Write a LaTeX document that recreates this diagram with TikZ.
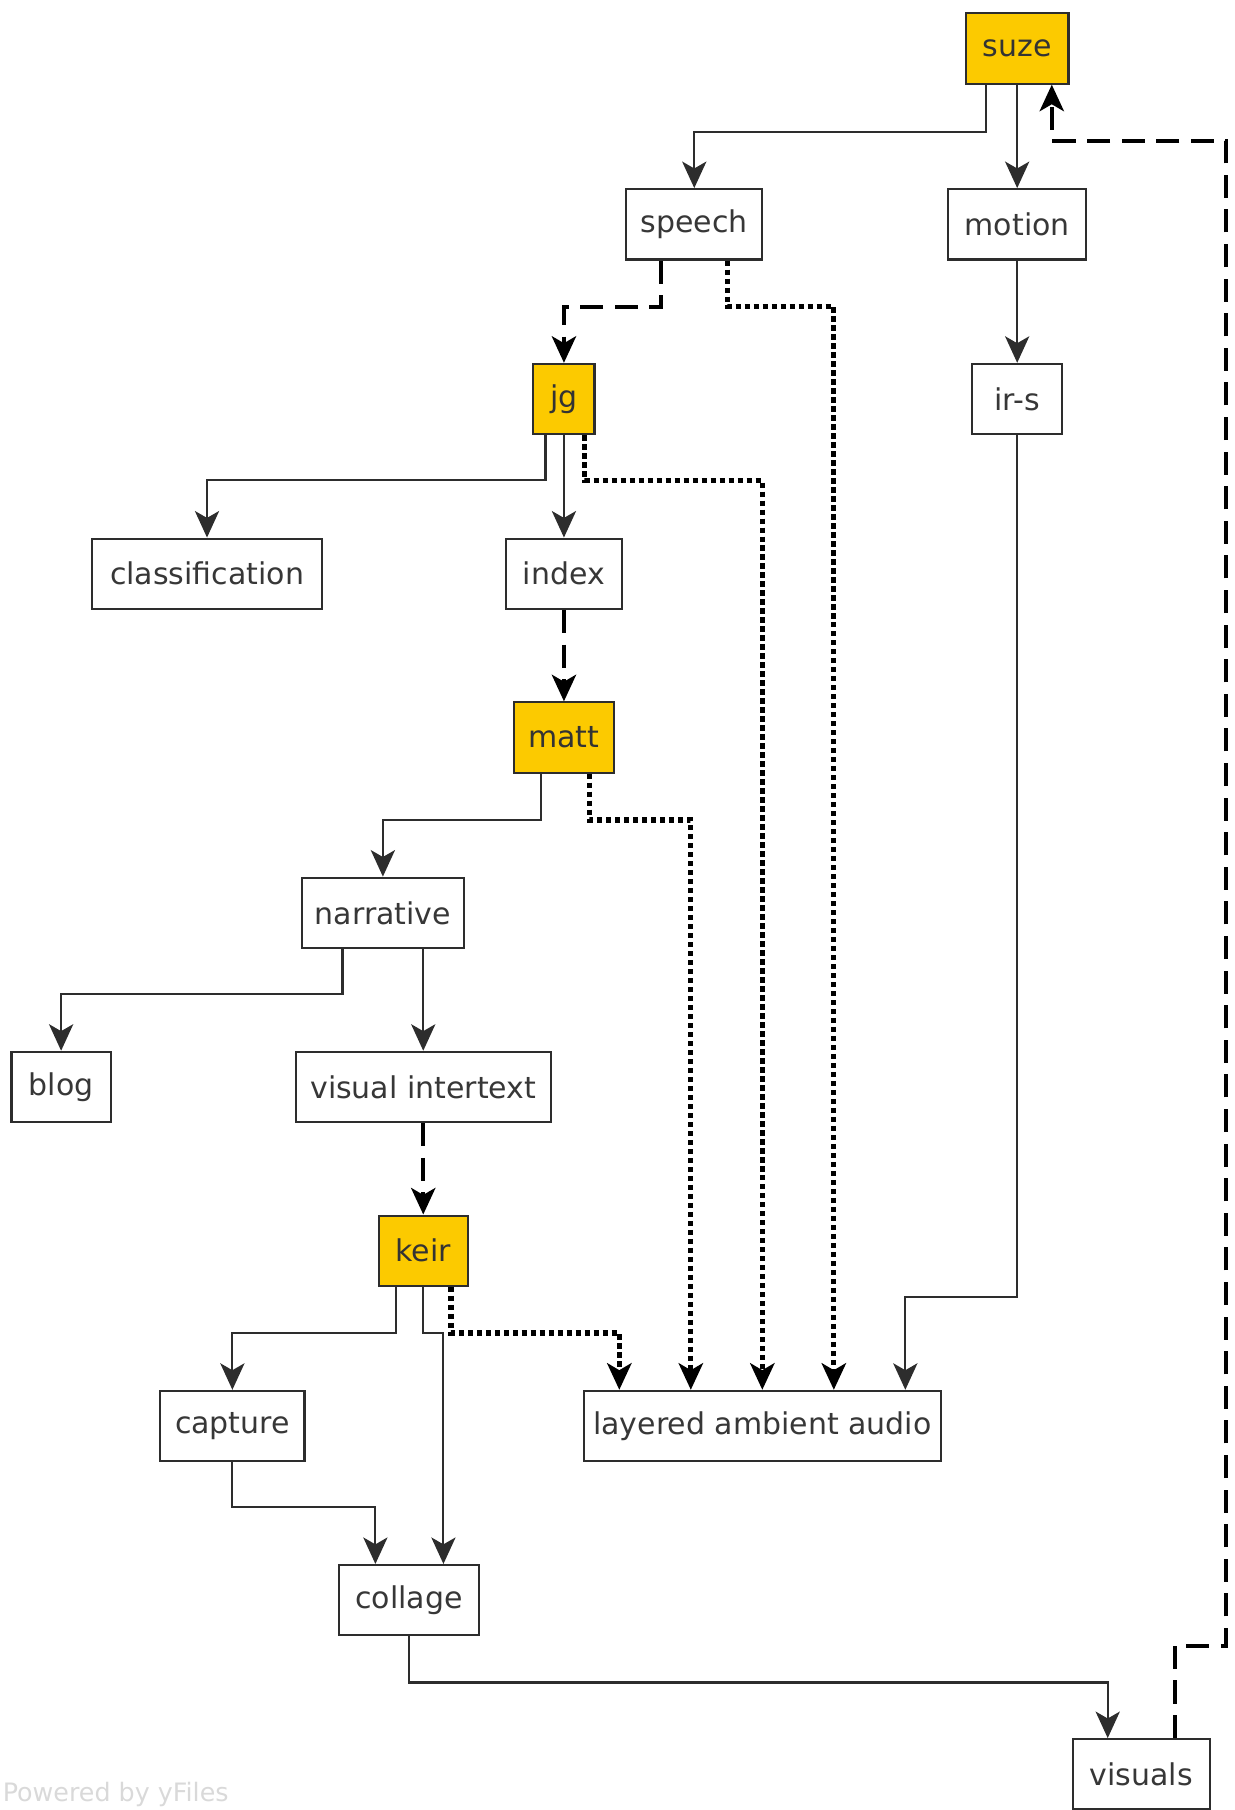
\documentclass[tikz,border=0pt]{standalone}
\usepackage{fontspec}
\setmainfont{DejaVu Sans}
\usetikzlibrary{arrows.meta}
\definecolor{yfyellow}{RGB}{252,202,0}
\definecolor{yfline}{RGB}{45,45,45}
\definecolor{yftext}{RGB}{55,55,55}

\begin{document}
\begin{tikzpicture}[x=0.5pt,y=-0.5pt,
  box/.style={draw=yfline,line width=0.9pt,fill=white,minimum height=30.5pt,inner sep=0pt,text=yftext,font=\fontsize{13}{15}\selectfont},
  agent/.style={box,fill=yfyellow,text=black!80},
  tip/.style={-{Stealth[length=11.5pt,width=10.5pt,inset=3pt]}},
  flow/.style={tip,draw=yfline,line width=0.9pt},
  handoff/.style={tip,line width=1.8pt,dash pattern=on 10pt off 5pt},
  feed/.style={tip,line width=2.3pt,dash pattern=on 2.3pt off 1.6pt}]
\useasboundingbox (0,0) rectangle (1070,1569.45);
\node[agent,minimum width=44.5pt] (suze) at (882,42) {suze};
\node[box,minimum width=59pt] (speech) at (602,194.5) {speech};
\node[box,minimum width=60pt] (motion) at (882,194.5) {motion};
\node[agent,minimum width=26.5pt] (jg) at (489,346) {jg};
\node[box,minimum width=39pt] (irs) at (882,346) {ir-s};
\node[box,minimum width=99.5pt] (classification) at (179.5,497.5) {classification};
\node[box,minimum width=50pt] (index) at (489,497.5) {index};
\node[agent,minimum width=43.5pt] (matt) at (489,639.5) {matt};
\node[box,minimum width=70.5pt] (narrative) at (332,791.5) {narrative};
\node[box,minimum width=43pt] (blog) at (53,942.5) {blog};
\node[box,minimum width=110.5pt] (vint) at (367,942.5) {visual intertext};
\node[agent,minimum width=38.5pt] (keir) at (367,1084.5) {keir};
\node[box,minimum width=62.5pt] (capture) at (201.5,1236.5) {capture};
\node[box,minimum width=155pt] (audio) at (661,1236.5) {layered ambient audio};
\node[box,minimum width=60.5pt] (collage) at (354.5,1387.5) {collage};
\node[box,minimum width=59.5pt] (visuals) at (989.5,1538.5) {visuals};
\node[anchor=base west,inner sep=0pt,text=black!15,font=\fontsize{11}{13}\selectfont] (credit) at (2,1562) {Powered by yFiles};
\coordinate (loopback) at (1063,122);
\draw[flow] ([xshift=-13.5pt]suze.south) -- ++(0,41) -| (speech);
\draw[flow] (suze) -- (motion);
\draw[handoff] ([xshift=14.5pt]visuals.north) -- ++(0,-80) -| (loopback) -| ([xshift=15pt]suze.south);
\draw[handoff] ([xshift=-14.5pt]speech.south) -- ++(0,40) -| (jg);
\draw[feed] ([xshift=14.5pt]speech.south) -- ++(0,40) -| ([xshift=31pt]audio.north);
\draw[flow] (motion) -- (irs);
\draw[flow] (irs.south) -- ++(0,747) -| ([xshift=62pt]audio.north);
\draw[flow] ([xshift=-8pt]jg.south) -- ++(0,39) -| (classification);
\draw[flow] (jg) -- (index);
\draw[feed] ([xshift=9pt]jg.south) -- ++(0,39) -| (audio);
\draw[handoff] (index) -- (matt);
\draw[flow] ([xshift=-10pt]matt.south) -- ++(0,40) -| (narrative);
\draw[feed] ([xshift=11pt]matt.south) -- ++(0,40) -| ([xshift=-31pt]audio.north);
\draw[flow] ([xshift=-17.5pt]narrative.south) -- ++(0,39) -| (blog);
\draw[flow] ([xshift=17.5pt]narrative.south) -- (vint);
\draw[handoff] (vint) -- (keir);
\draw[flow] ([xshift=-12pt]keir.south) -- ++(0,40) -| (capture);
\draw[flow] (keir.south) -- ++(0,40) -| ([xshift=15pt]collage.north);
\draw[feed] ([xshift=12pt]keir.south) -- ++(0,40) -| ([xshift=-62pt]audio.north);
\draw[flow] (capture.south) -- ++(0,39) -| ([xshift=-14.5pt]collage.north);
\draw[flow] (collage.south) -- ++(0,40) -| ([xshift=-14.5pt]visuals.north);
\end{tikzpicture}
\end{document}
